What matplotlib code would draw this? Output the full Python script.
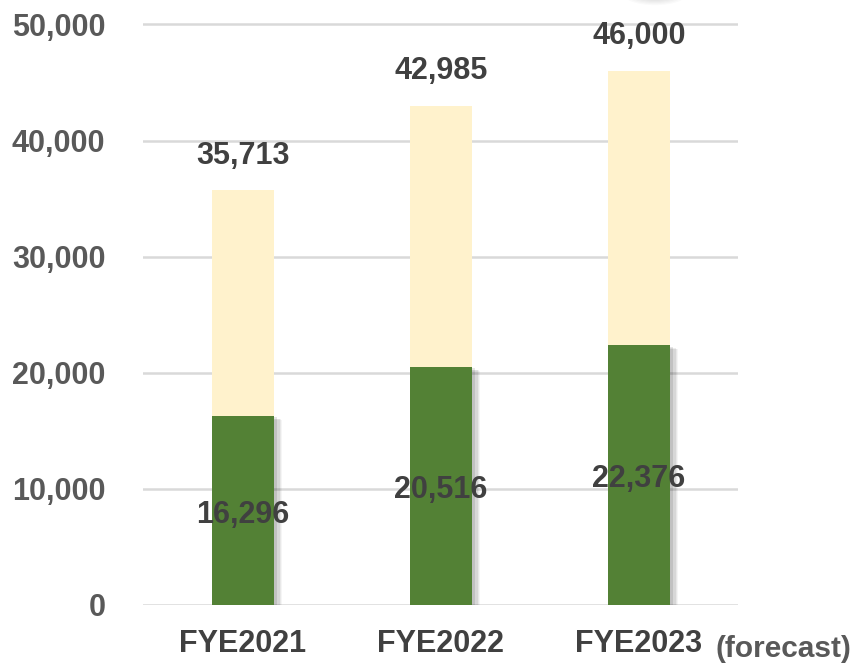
import matplotlib
matplotlib.use("Agg")
import matplotlib.pyplot as plt
import matplotlib.patheffects as pe
from matplotlib.patches import Ellipse

categories = ["FYE2021", "FYE2022", "FYE2023"]
totals = [35713, 42985, 46000]
lower = [16296, 20516, 22376]
yticks = [0, 10000, 20000, 30000, 40000, 50000]

GREEN = "#538135"
CREAM = "#FFF2CC"
TEXT = "#404040"
TICK = "#595959"

plt.rcParams["font.family"] = ["Liberation Sans", "DejaVu Sans"]
plt.rcParams["font.weight"] = "bold"

fig = plt.figure(figsize=(8.62, 6.63), dpi=100)
ax = fig.add_axes([143 / 862, 58 / 663, 595 / 862, 605 / 663])

x = list(range(len(categories)))
w = 0.313

ax.bar(x, totals, width=w, color=CREAM, zorder=2)

# soft shadow on the green part
shadow = [
    pe.SimplePatchShadow(offset=(6, -3), shadow_rgbFace="#000000", alpha=0.04),
    pe.SimplePatchShadow(offset=(5, -2.5), shadow_rgbFace="#000000", alpha=0.05),
    pe.SimplePatchShadow(offset=(4, -2), shadow_rgbFace="#000000", alpha=0.07),
    pe.SimplePatchShadow(offset=(2.5, -1), shadow_rgbFace="#000000", alpha=0.10),
    pe.Normal(),
]
bars = ax.bar(x, lower, width=w, color=GREEN, zorder=3)
for b in bars:
    b.set_path_effects(shadow)

for xi, t in zip(x, totals):
    ax.annotate(f"{t:,}", (xi, t), xytext=(0, 25), textcoords="offset points",
                ha="center", va="center", fontsize=22, color=TEXT, zorder=5)
for xi, v in zip(x, lower):
    ax.annotate(f"{v:,}", (xi, v / 2), xytext=(0, -3), textcoords="offset points",
                ha="center", va="center", fontsize=22, color=TEXT, zorder=5)

ax.set_xlim(-0.505, 2.5)
ax.set_ylim(0, 52100)
ax.set_yticks(yticks)
ax.set_yticklabels([f"{v:,}" for v in yticks], fontsize=22, color=TICK)
ax.set_xticks(x)
ax.set_xticklabels(categories, fontsize=22, color=TEXT)
ax.tick_params(axis="y", length=0, pad=27)
ax.tick_params(axis="x", length=0, pad=17)
ax.grid(axis="y", color="#D9D9D9", linewidth=1.8, zorder=0)
ax.set_axisbelow(True)
for s in ax.spines.values():
    s.set_visible(False)

ax.annotate("(forecast)", (2, 0), xytext=(55, -32), textcoords="offset points",
            ha="left", va="center", fontsize=21.5, color=TICK, annotation_clip=False)

# faint blurred blob cut by the top edge
for i in range(8):
    r = 64 - i * 6
    fig.patches.append(Ellipse((655 / 862, 1.0 + 6 / 663), r / 862, r * 0.35 / 663,
                               transform=fig.transFigure, color="#000000",
                               alpha=0.018, linewidth=0, zorder=0))

fig.savefig("out.png", dpi=100)
